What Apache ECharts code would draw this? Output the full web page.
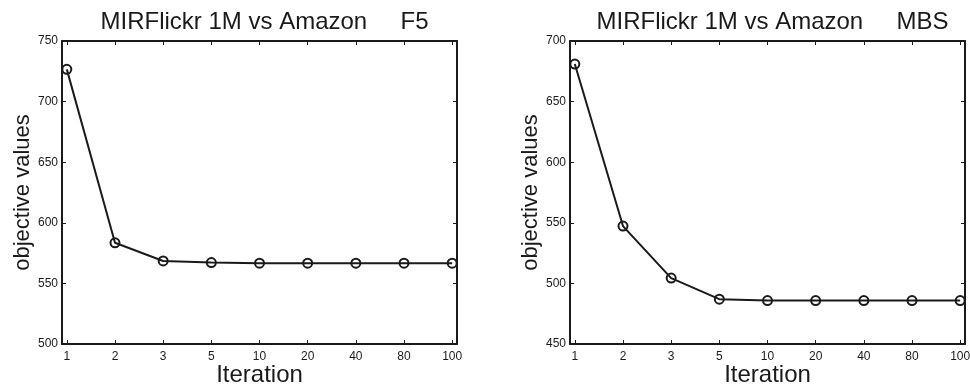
<!DOCTYPE html>
<html>
<head>
<meta charset="utf-8">
<script src="https://cdn.jsdelivr.net/npm/echarts@6/dist/echarts.min.js"></script>
<style>html,body{margin:0;padding:0;background:#fff}#c{width:970px;height:391px}</style>
</head>
<body>
<div id="c"></div>
<script>
var iterations = ['1', '2', '3', '5', '10', '20', '40', '80', '100'];
var f5Values = [726.6, 583.5, 568.5, 567.2, 566.7, 566.7, 566.7, 566.7, 566.7];
var mbsValues = [681, 547.3, 504.4, 487, 485.8, 485.8, 485.8, 485.8, 485.8];
var titles = ['MIRFlickr 1M vs Amazon     F5', 'MIRFlickr 1M vs Amazon     MBS'];
var yRanges = [[500, 750], [450, 700]];
var xAxisName = 'Iteration';
var yAxisName = 'objective values';

var FONT = 'Liberation Sans, Arial, Helvetica, sans-serif';
var INK = '#1a1a1a';
var grids = [
  {left: 62, top: 41, width: 395, height: 303, outerBoundsMode: 'none', containLabel: false},
  {left: 570, top: 41, width: 395, height: 303, outerBoundsMode: 'none', containLabel: false}
];
var idx = iterations.map(function (_, i) { return i; });

var xAxes = [], yAxes = [], series = [], titleArr = [];
[f5Values, mbsValues].forEach(function (vals, g) {
  var axLine = {show: true, onZero: false, lineStyle: {color: INK, width: 2}};
  var tick = {show: true, inside: true, length: 4, lineStyle: {color: INK, width: 1}};
  xAxes.push({
    gridIndex: g, type: 'value', min: -0.1, max: 8.1, position: 'bottom',
    axisLine: axLine, splitLine: {show: false},
    axisTick: Object.assign({customValues: idx}, tick),
    axisLabel: {customValues: idx, color: INK, fontFamily: FONT, fontSize: 12, margin: 7,
      formatter: function (v) { return iterations[Math.round(v)]; }},
    name: xAxisName, nameLocation: 'middle', nameGap: 19, nameMoveOverlap: false,
    nameTextStyle: {color: INK, fontFamily: FONT, fontSize: 24}
  });
  xAxes.push({
    gridIndex: g, type: 'value', min: -0.1, max: 8.1, position: 'top',
    axisLine: axLine, splitLine: {show: false},
    axisTick: Object.assign({customValues: idx}, tick),
    axisLabel: {show: false}
  });
  var yr = yRanges[g];
  yAxes.push({
    gridIndex: g, type: 'value', min: yr[0], max: yr[1], interval: 50, position: 'left',
    axisLine: axLine, splitLine: {show: false},
    axisTick: tick,
    axisLabel: {color: INK, fontFamily: FONT, fontSize: 12, margin: 4},
    name: yAxisName, nameLocation: 'middle', nameGap: 28, nameMoveOverlap: false,
    nameTextStyle: {color: INK, fontFamily: FONT, fontSize: 22}
  });
  yAxes.push({
    gridIndex: g, type: 'value', min: yr[0], max: yr[1], interval: 50, position: 'right',
    axisLine: axLine, splitLine: {show: false},
    axisTick: tick, axisLabel: {show: false}
  });
  series.push({
    type: 'line', xAxisIndex: g * 2, yAxisIndex: g * 2,
    data: vals.map(function (v, i) { return [i, v]; }),
    symbol: 'circle', symbolSize: 9, showSymbol: true,
    itemStyle: {color: 'rgba(255,255,255,0)', borderColor: INK, borderWidth: 2},
    lineStyle: {color: INK, width: 2},
    animation: false
  });
  titleArr.push({
    text: titles[g], left: grids[g].left + grids[g].width / 2, top: 5, textAlign: 'center',
    textStyle: {color: INK, fontFamily: FONT, fontSize: 24, fontWeight: 'normal'}
  });
});

var chart = echarts.init(document.getElementById('c'));
chart.setOption({
  backgroundColor: '#fff',
  animation: false,
  title: titleArr,
  grid: grids,
  xAxis: xAxes,
  yAxis: yAxes,
  series: series
});
</script>
</body>
</html>
